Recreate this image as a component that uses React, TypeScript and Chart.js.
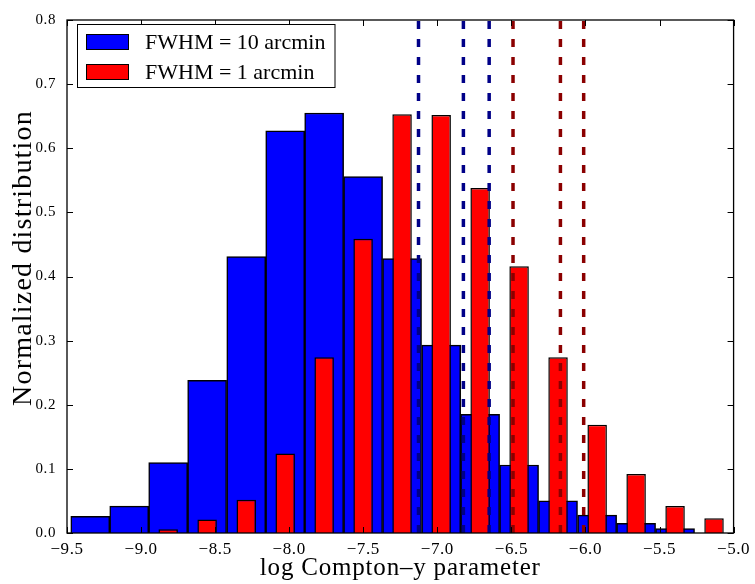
import React, { useEffect, useRef } from 'react';
import { Chart, registerables } from 'chart.js';

Chart.register(...registerables);

// Histogram bin centres (log Compton-y)
const binCenters = [-9.343, -9.080, -8.817, -8.554, -8.290, -8.027, -7.764, -7.501, -7.238, -6.974, -6.711, -6.448, -6.185, -5.921, -5.658, -5.395, -5.132];
// FWHM = 10 arcmin
const blueValues = [0.026, 0.042, 0.110, 0.238, 0.431, 0.627, 0.655, 0.556, 0.428, 0.293, 0.185, 0.106, 0.050, 0.028, 0.015, 0.007, 0.0];
// FWHM = 1 arcmin
const redValues = [0.0, 0.0, 0.006, 0.021, 0.052, 0.124, 0.274, 0.459, 0.653, 0.652, 0.538, 0.416, 0.274, 0.169, 0.092, 0.042, 0.023];
// Vertical dashed markers
const blueLines = [-7.127, -6.824, -6.650];
const redLines = [-6.489, -6.169, -6.012];

const xTicks = [-9.5, -9.0, -8.5, -8.0, -7.5, -7.0, -6.5, -6.0, -5.5, -5.0];
const yTicks = [0.0, 0.1, 0.2, 0.3, 0.4, 0.5, 0.6, 0.7, 0.8];
const seriesLabels = ['FWHM = 10 arcmin', 'FWHM = 1 arcmin'];
const xTitle = 'log Compton\u2013y parameter';
const yTitle = 'Normalized distribution';

const BLUE = '#0000ff';
const RED = '#ff0000';
const NAVY = '#000088';
const DARKRED = '#8b0000';
const FONT = "'Liberation Serif', 'Times New Roman', serif";

const fmt = (v: number) => {
  const s = Math.abs(v).toFixed(1);
  return v < 0 ? '\u2212' + s : s;
};

const mplPlugin = {
  id: 'mplDecor',
  beforeDraw(chart: any) {
    (chart.ctx as any).letterSpacing = '0.6px';
  },
  beforeDatasetsDraw(chart: any) {
    (chart.ctx as any).letterSpacing = '0px';
  },
  afterDatasetsDraw(chart: any) {
    const { ctx, chartArea: a, scales } = chart;
    const xs = scales.x;
    const ys = scales.y;
    ctx.save();
    ctx.strokeStyle = '#000';
    ctx.lineWidth = 1;
    ctx.beginPath();
    const tl = 6;
    for (const v of xTicks) {
      const px = Math.round(xs.getPixelForValue(v)) + 0.5;
      ctx.moveTo(px, a.bottom);
      ctx.lineTo(px, a.bottom - tl);
      ctx.moveTo(px, a.top);
      ctx.lineTo(px, a.top + tl);
    }
    for (const v of yTicks) {
      const py = Math.round(ys.getPixelForValue(v)) + 0.5;
      ctx.moveTo(a.left, py);
      ctx.lineTo(a.left + tl, py);
      ctx.moveTo(a.right, py);
      ctx.lineTo(a.right - tl, py);
    }
    ctx.stroke();
    ctx.lineWidth = 1.3;
    ctx.strokeRect(a.left, a.top, a.right - a.left, a.bottom - a.top);
    ctx.restore();
  },
  afterDraw(chart: any) {
    const { ctx, chartArea: a } = chart;
    ctx.save();
    (ctx as any).letterSpacing = '0px';
    // Legend
    const lx = 77.5, ly = 24.5, lw = 257.5, lh = 63;
    ctx.fillStyle = '#fff';
    ctx.fillRect(lx, ly, lw, lh);
    ctx.strokeStyle = '#000';
    ctx.lineWidth = 1;
    ctx.strokeRect(lx, ly, lw, lh);
    const colors = [BLUE, RED];
    const patchY = [34, 64];
    const baseY = [49, 79];
    ctx.font = `22px ${FONT}`;
    ctx.textAlign = 'left';
    ctx.textBaseline = 'alphabetic';
    for (let i = 0; i < seriesLabels.length; i++) {
      ctx.fillStyle = colors[i];
      ctx.fillRect(86.5, patchY[i] + 0.5, 42, 15);
      ctx.strokeRect(86.5, patchY[i] + 0.5, 42, 15);
      ctx.fillStyle = '#000';
      ctx.fillText(seriesLabels[i], 145, baseY[i]);
    }
    // Axis titles
    const cx = (a.left + a.right) / 2;
    ctx.fillStyle = '#000';
    (ctx as any).letterSpacing = '0.8px';
    ctx.font = `25px ${FONT}`;
    ctx.textAlign = 'center';
    ctx.fillText(xTitle, cx, 575);
    (ctx as any).letterSpacing = '1.2px';
    ctx.font = `28px ${FONT}`;
    ctx.translate(31, 258);
    ctx.rotate(-Math.PI / 2);
    ctx.fillText(yTitle, 0, 0);
    ctx.restore();
  },
};

export default function App() {
  const ref = useRef<HTMLCanvasElement | null>(null);
  useEffect(() => {
    if (!ref.current) return;
    const pts = (vals: number[]) => binCenters.map((x, i) => ({ x, y: vals[i] }));
    const vline = (v: number, color: string) => ({
      type: 'line' as const,
      data: [{ x: v, y: 0 }, { x: v, y: 0.8 }],
      borderColor: color,
      borderWidth: 3.5,
      borderDash: [8, 10],
      pointRadius: 0,
      fill: false,
      order: -1,
    });
    const chart = new Chart(ref.current, {
      type: 'bar',
      data: {
        datasets: [
          {
            label: seriesLabels[0],
            data: pts(blueValues),
            backgroundColor: BLUE,
            borderColor: '#000',
            borderWidth: 1.5,
            grouped: false,
            barPercentage: 1,
            categoryPercentage: 1,
            order: 2,
          } as any,
          {
            label: seriesLabels[1],
            data: pts(redValues),
            backgroundColor: RED,
            borderColor: '#000',
            borderWidth: 1.5,
            grouped: false,
            barPercentage: 0.5,
            categoryPercentage: 1,
            order: 1,
          } as any,
          ...blueLines.map((v) => vline(v, NAVY)),
          ...redLines.map((v) => vline(v, DARKRED)),
        ],
      },
      options: {
        responsive: false,
        animation: false,
        devicePixelRatio: 1,
        layout: { padding: { top: 14, right: 18, left: 0, bottom: 0 } },
        plugins: {
          legend: { display: false },
          tooltip: { enabled: false },
          title: { display: false },
        },
        scales: {
          x: {
            type: 'linear',
            min: -9.5,
            max: -5.0,
            offset: false,
            grid: { display: false, drawTicks: false, offset: false },
            border: { display: false },
            afterBuildTicks: (s: any) => {
              s.ticks = xTicks.map((v) => ({ value: v }));
            },
            afterFit: (s: any) => {
              s.height = 51;
            },
            ticks: {
              padding: 6,
              color: '#000',
              font: { family: FONT, size: 17 },
              maxRotation: 0,
              autoSkip: false,
              callback: (v: any) => fmt(Number(v)),
            },
          },
          y: {
            type: 'linear',
            min: 0,
            max: 0.8,
            grid: { display: false, drawTicks: false },
            border: { display: false },
            afterBuildTicks: (s: any) => {
              s.ticks = yTicks.map((v) => ({ value: v }));
            },
            afterFit: (s: any) => {
              s.width = 67;
            },
            ticks: {
              padding: 11,
              color: '#000',
              font: { family: FONT, size: 15 },
              autoSkip: false,
              callback: (v: any) => Number(v).toFixed(1),
            },
          },
        },
      },
      plugins: [mplPlugin],
    } as any);
    return () => chart.destroy();
  }, []);
  return (
    <div style={{ position: 'fixed', left: 0, top: 0, width: 755, height: 584, background: '#fff' }}>
      <canvas ref={ref} width={755} height={584} style={{ width: 755, height: 584, display: 'block' }} />
    </div>
  );
}
